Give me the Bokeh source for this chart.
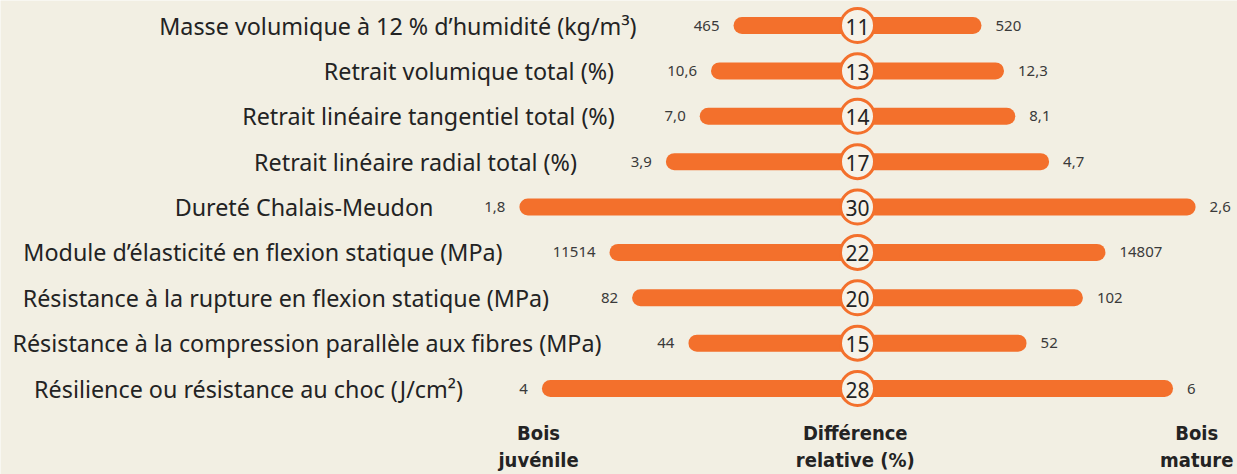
from bokeh.plotting import figure
from bokeh.models import Range1d, ColumnDataSource
from bokeh.core.properties import value
from bokeh.embed import file_html
from bokeh.resources import INLINE

# ---- data ----
categories = [
    "Masse volumique à 12 % d’humidité",
    "Retrait volumique total",
    "Retrait linéaire tangentiel total",
    "Retrait linéaire radial total",
    "Dureté Chalais-Meudon",
    "Module d’élasticité en flexion statique",
    "Résistance à la rupture en flexion statique",
    "Résistance à la compression parallèle aux fibres",
    "Résilience ou résistance au choc",
]
units = ["(kg/m³)", "(%)", "(%)", "(%)", "", "(MPa)", "(MPa)", "(MPa)", "(J/cm²)"]
bois_juvenile = [465, 10.6, 7.0, 3.9, 1.8, 11514, 82, 44, 4]
bois_mature = [520, 12.3, 8.1, 4.7, 2.6, 14807, 102, 52, 6]
decimals = [0, 1, 1, 1, 1, 0, 0, 0, 0]
difference_relative = [11, 13, 14, 17, 30, 22, 20, 15, 28]
footer_labels = ["Bois\njuvénile", "Différence\nrelative (%)", "Bois\nmature"]

# ---- layout / style ----
BG = "#f2efe3"
ORANGE = "#f3702c"
TXT = "#232323"
W, H = 1237, 474
PX_PER_UNIT = 11.27
CENTER_PX = 857
ROW_PX = 45.375
TOP_PX = 25
label_gap = [97, 97, 85, 89, 86, 107, 83, 87, 79]

x0 = -CENTER_PX / PX_PER_UNIT
x1 = (W - CENTER_PX) / PX_PER_UNIT
y_top = -TOP_PX / ROW_PX
y_bot = y_top + H / ROW_PX

def fmt(v, d):
    s = f"{v:.{d}f}"
    return s.replace(".", ",")

n = len(categories)
rows = list(range(n))
src = ColumnDataSource(dict(
    y=rows,
    d=difference_relative,
    left=[-v for v in difference_relative],
    right=difference_relative,
    lab=[(c + (" " + u if u else "")) for c, u in zip(categories, units)],
    lab_off=[-g for g in label_gap],
    jv=[fmt(v, d) for v, d in zip(bois_juvenile, decimals)],
    mv=[fmt(v, d) for v, d in zip(bois_mature, decimals)],
    dtxt=[str(v) for v in difference_relative],
    zero=[0] * n,
))

p = figure(width=W, height=H, output_backend="svg", toolbar_location=None,
           x_range=Range1d(x0, x1), y_range=Range1d(y_bot, y_top),
           min_border=0, min_border_left=0, min_border_right=0,
           min_border_top=0, min_border_bottom=0)
p.background_fill_color = BG
p.border_fill_color = BG
p.outline_line_color = None
p.xaxis.visible = False
p.yaxis.visible = False
p.xgrid.visible = False
p.ygrid.visible = False

p.hbar(y="y", left="left", right="right", height=17 / ROW_PX, source=src,
       fill_color=ORANGE, line_color=None, border_radius=9)

p.scatter(x="zero", y="y", size=34, source=src, fill_color="#f6f2e8",
          line_color=ORANGE, line_width=3)

p.text(x="zero", y="y", text="dtxt", source=src, text_align="center",
       text_baseline="middle", text_font=value("Noto Sans"),
       text_font_size="21px", text_color=TXT, y_offset=1)

p.text(x="left", y="y", text="jv", source=src, text_align="right",
       text_baseline="middle", text_font=value("Noto Sans"),
       text_font_size="15px", text_color="#3a3a3a", x_offset=-14)
p.text(x="right", y="y", text="mv", source=src, text_align="left",
       text_baseline="middle", text_font=value("Noto Sans"),
       text_font_size="15px", text_color="#3a3a3a", x_offset=14)

p.text(x="left", y="y", text="lab", x_offset="lab_off", source=src,
       text_align="right", text_baseline="middle",
       text_font=value("Noto Sans"), text_font_size="23.3px", text_color=TXT)

fsrc = ColumnDataSource(dict(
    x=[-28.3, -0.2, 30.1],
    y=[9.28, 9.28, 9.28],
    t=footer_labels,
))
p.text(x="x", y="y", text="t", source=fsrc, text_align="center",
       text_baseline="middle",
       text_font=value("'DejaVu Sans Condensed', Roboto"),
       text_font_style="bold", text_font_size="20px", text_color=TXT,
       text_line_height=1.15)

html = file_html(p, INLINE)
html = html.replace("<body>", f"<body style=\"background:{BG}\">", 1)
open("out.html", "w").write(html)
